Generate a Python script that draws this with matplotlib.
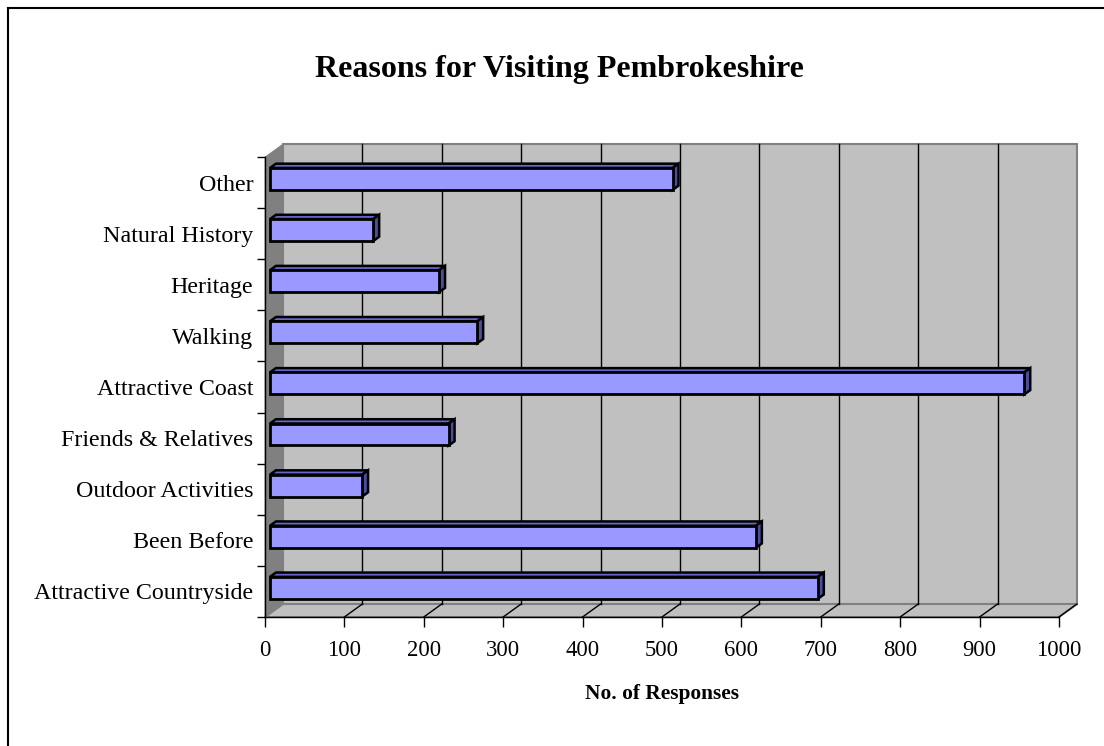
import numpy as np
import matplotlib
matplotlib.use('Agg')
import matplotlib.pyplot as plt
from matplotlib.patches import Polygon
from matplotlib.lines import Line2D
from matplotlib.transforms import IdentityTransform, offset_copy

# Data (bottom to top)
categories = ['Attractive Countryside', 'Been Before', 'Outdoor Activities',
              'Friends & Relatives', 'Attractive Coast', 'Walking',
              'Heritage', 'Natural History', 'Other']
responses = [690, 612, 116, 225, 950, 261, 213, 130, 507]
x_ticks = list(range(0, 1001, 100))

FONT = 'Liberation Serif'
DX, DY = 18, 13          # pixel offset of the back wall (full depth)
BAR_D0, BAR_D1 = 0.28, 0.61
BAR_H = 0.43

fig = plt.figure(figsize=(11.04, 7.46), dpi=100)
ax = fig.add_axes([0.2400, 0.1729, 0.7192, 0.6166])
ax.set_xlim(0, 1000)
ax.set_ylim(0, len(categories))
ax.patch.set_visible(False)
for s in ax.spines.values():
    s.set_visible(False)

fig.canvas.draw()
ident = IdentityTransform()


def P(v, y, d):
    x0, y0 = ax.transData.transform((v, y))
    return (x0 + d * DX, y0 + d * DY)


def poly(pts, fc, ec, lw, z):
    ax.add_patch(Polygon(pts, closed=True, facecolor=fc, edgecolor=ec,
                         linewidth=lw, transform=ident, clip_on=False,
                         zorder=z, joinstyle='miter'))


def line(p, q, color, lw, z):
    ax.add_line(Line2D([p[0], q[0]], [p[1], q[1]], color=color, lw=lw,
                       transform=ident, clip_on=False, zorder=z))


n = len(categories)
# walls
poly([P(0, 0, 1), P(1000, 0, 1), P(1000, n, 1), P(0, n, 1)],
     '#c0c0c0', '#808080', 1.5, 1)
poly([P(0, 0, 0), P(1000, 0, 0), P(1000, 0, 1), P(0, 0, 1)],
     '#c0c0c0', '#808080', 1.5, 1)
poly([P(0, 0, 0), P(0, 0, 1), P(0, n, 1), P(0, n, 0)],
     '#808080', '#808080', 0.5, 1.1)

# gridlines
for v in x_ticks[1:]:
    if v < 1000:
        line(P(v, 0, 1), P(v, n, 1), '#000000', 1.0, 2)
    line(P(v, 0, 0), P(v, 0, 1), '#000000', 1.0, 2)

# bars
yc = np.arange(n) + 0.5
front_tr = offset_copy(ax.transData, fig=fig, x=BAR_D0 * DX, y=BAR_D0 * DY,
                       units='dots')
ax.barh(yc, responses, height=BAR_H, color='#9999ff', edgecolor='black',
        linewidth=2.0, transform=front_tr, zorder=5, clip_on=False)
for y, v in zip(yc, responses):
    top, bot = y + BAR_H / 2, y - BAR_H / 2
    poly([P(0, top, BAR_D0), P(v, top, BAR_D0), P(v, top, BAR_D1), P(0, top, BAR_D1)],
         '#6666cc', 'black', 1.8, 4)
    poly([P(v, bot, BAR_D0), P(v, bot, BAR_D1), P(v, top, BAR_D1), P(v, top, BAR_D0)],
         '#4d4d99', 'black', 1.8, 4)

# front axes lines and ticks
line(P(0, 0, 0), P(0, n, 0), 'black', 1.0, 6)
line(P(0, 0, 0), P(1000, 0, 0), 'black', 1.0, 6)
ax.set_xticks(x_ticks)
ax.set_yticks(np.arange(n + 1))
ax.set_yticklabels([])
ax.set_yticks(yc, minor=True)
ax.set_yticklabels(categories, minor=True, fontfamily=FONT, fontsize=17.3)
ax.tick_params(axis='y', which='major', direction='out', length=6, width=1, left=True)
ax.tick_params(axis='y', which='minor', length=0, pad=8.5)
ax.tick_params(axis='x', direction='out', length=7, width=1, pad=9.5)
ax.set_xticklabels([str(t) for t in x_ticks], fontfamily=FONT, fontsize=16.3)

ax.set_xlabel('No. of Responses', fontfamily=FONT, fontsize=15.4,
              fontweight='bold', labelpad=16.5)
fig.text(0.507, 1 - 69 / 746, 'Reasons for Visiting Pembrokeshire',
         fontfamily=FONT, fontsize=23, fontweight='bold',
         ha='center', va='center')

# page frame (left and top edges)
fig.add_artist(Line2D([8 / 1104, 8 / 1104], [0, 1 - 8 / 746],
                      transform=fig.transFigure, color='black', lw=1.5))
fig.add_artist(Line2D([8 / 1104, 1], [1 - 8 / 746, 1 - 8 / 746],
                      transform=fig.transFigure, color='black', lw=1.5))

fig.savefig('out.png', dpi=100, facecolor='white')
